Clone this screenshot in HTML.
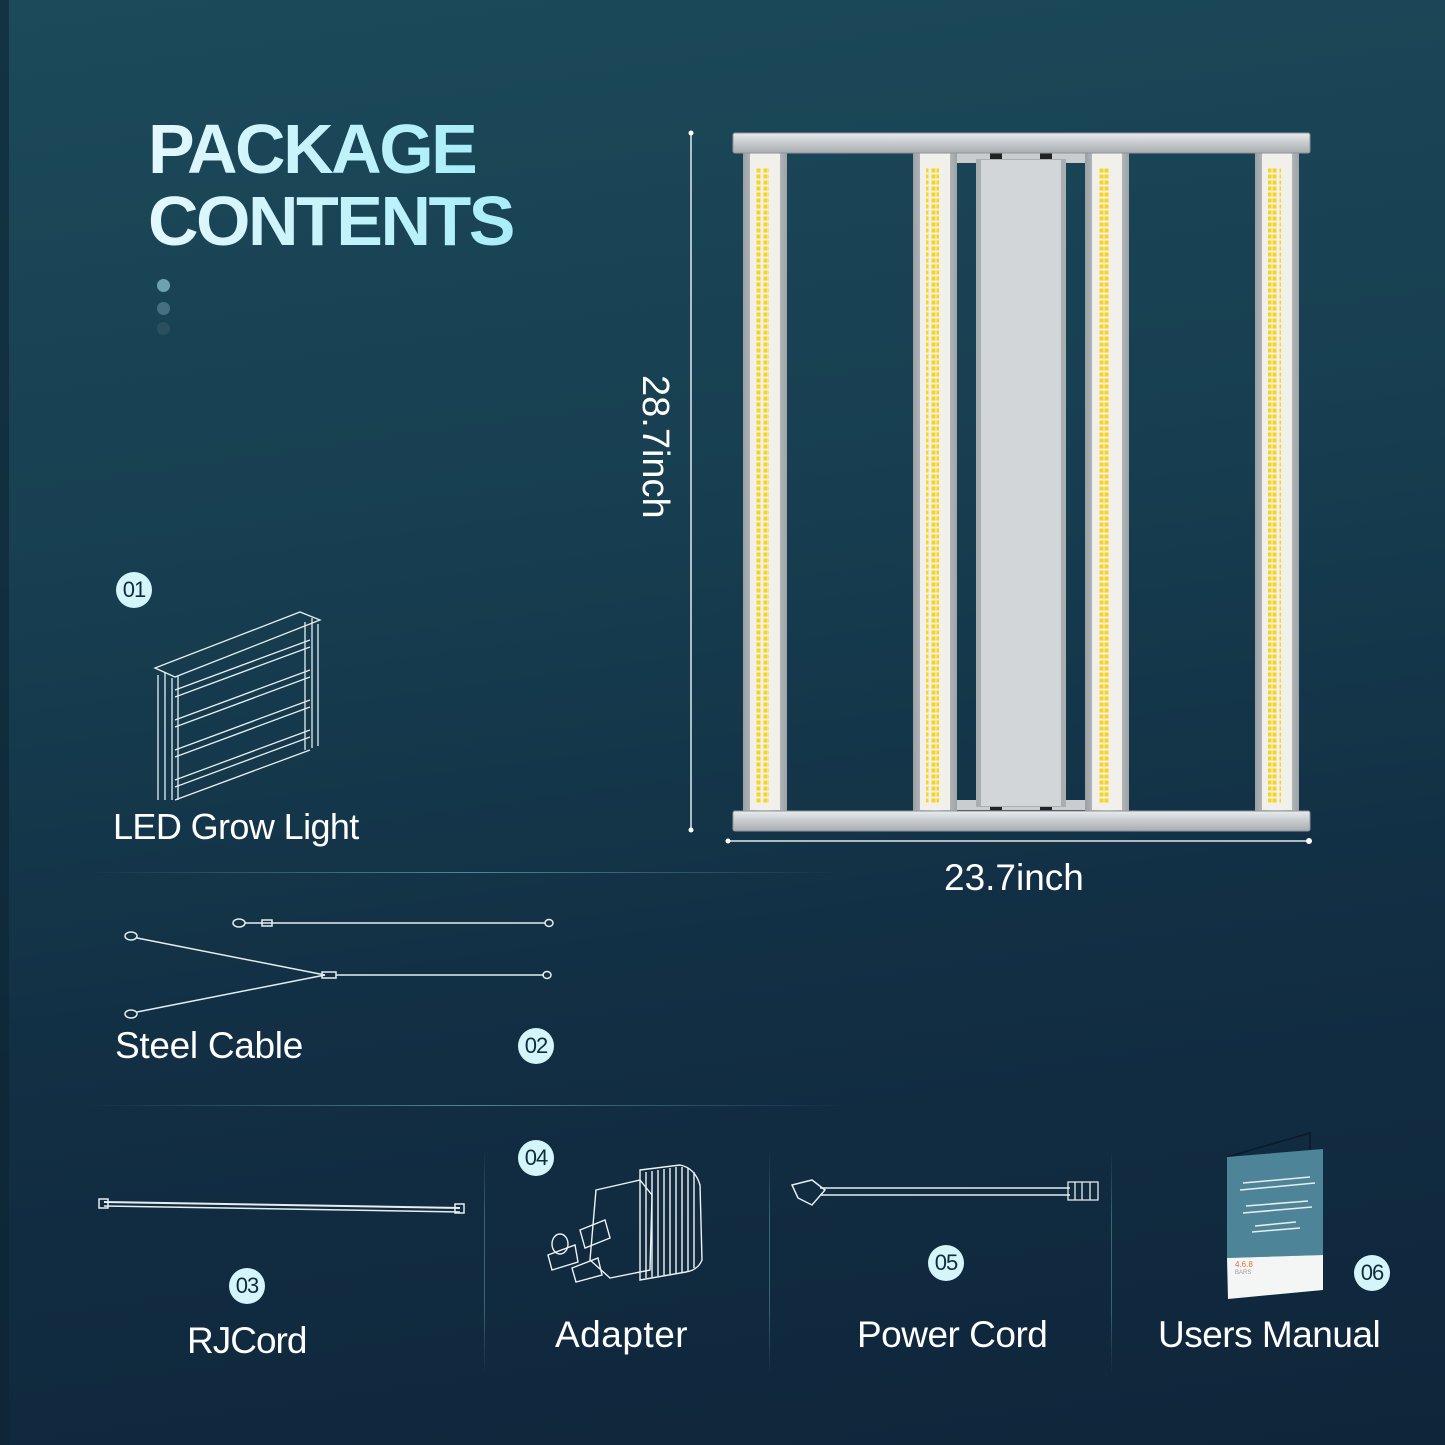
<!DOCTYPE html>
<html><head><meta charset="utf-8"><style>
html,body{margin:0;padding:0}
body{width:1445px;height:1445px;position:relative;overflow:hidden;font-family:"Liberation Sans",sans-serif;
background:linear-gradient(172deg,#1c4a5a 0%,#173f51 35%,#122f44 65%,#0f253a 100%);}
.t{position:absolute;color:#fff;white-space:nowrap;letter-spacing:0}
.b{position:absolute;width:36px;height:36px;border-radius:50%;background:#d4f6fb;color:#0f2a3c;font-size:22px;line-height:36px;text-align:center;letter-spacing:-1px}
.title{position:absolute;left:148px;font-weight:bold;font-size:70px;letter-spacing:-2.5px;line-height:70px;color:#d9f6fb;
background:linear-gradient(90deg,#e4f8fc,#a8eefa);-webkit-background-clip:text;background-clip:text;-webkit-text-fill-color:transparent}
.dot{position:absolute;left:157px;width:13px;height:13px;border-radius:50%}
.hl{position:absolute;height:1px;background:linear-gradient(90deg,rgba(120,190,205,0),rgba(120,190,205,.6) 50%,rgba(120,190,205,0))}
.vl{position:absolute;width:1px;background:linear-gradient(180deg,rgba(110,170,190,0),rgba(110,170,190,.45) 30%,rgba(110,170,190,.45) 70%,rgba(110,170,190,0))}
</style></head><body>
<div style="position:absolute;left:0;top:0;width:9px;height:1445px;background:#0e2432;opacity:.6"></div>

<div class="title" style="top:114px">PACKAGE</div>
<div class="title" style="top:186px">CONTENTS</div>
<div class="dot" style="top:279px;background:#6fa2b0"></div>
<div class="dot" style="top:302px;background:#44717f"></div>
<div class="dot" style="top:322px;background:#2a5060"></div>

<svg style="position:absolute;left:0;top:0" width="1445" height="1445">
<defs>
<pattern id="led" x="0" y="0" width="12" height="6" patternUnits="userSpaceOnUse">
<rect x="0.5" y="0.5" width="4" height="4" fill="#f7d51c"/><rect x="7.5" y="0.5" width="4" height="4" fill="#f7d51c"/>
</pattern>
<linearGradient id="al" x1="0" x2="1"><stop offset="0" stop-color="#9aa0a4"/><stop offset=".5" stop-color="#d8dcde"/><stop offset="1" stop-color="#9ea3a6"/></linearGradient>
<linearGradient id="alh" x1="0" y1="0" x2="0" y2="1"><stop offset="0" stop-color="#e8ecee"/><stop offset=".5" stop-color="#c6cacc"/><stop offset="1" stop-color="#a8adb0"/></linearGradient>
</defs>
<line x1="691" y1="133" x2="691" y2="830" stroke="#dfe9ec" stroke-width="1.5"/>
<circle cx="691" cy="133" r="2.5" fill="#fff"/><circle cx="691" cy="830" r="2.5" fill="#fff"/>
<line x1="728" y1="841" x2="1309" y2="841" stroke="#dfe9ec" stroke-width="1.5"/>
<circle cx="728" cy="841" r="2.5" fill="#fff"/><circle cx="1309" cy="841" r="3" fill="#fff"/>
<rect x="955" y="153" width="135" height="10" fill="#c9cdd0"/>
<rect x="955" y="800" width="135" height="10" fill="#c9cdd0"/>
<rect x="990" y="152" width="12" height="8" fill="#222"/><rect x="1040" y="152" width="12" height="8" fill="#222"/>
<rect x="990" y="802" width="12" height="8" fill="#222"/><rect x="1040" y="802" width="12" height="8" fill="#222"/>
<rect x="976" y="159" width="90" height="648" fill="#a9aeb1"/>
<rect x="981" y="160" width="80" height="646" fill="#d3d6d8"/>
<g>
<rect x="743" y="150" width="44" height="662" fill="url(#al)"/><rect x="750" y="152" width="30" height="658" fill="#f2f0ea"/><rect x="756" y="168" width="13" height="636" fill="url(#led)"/>
<rect x="913" y="150" width="44" height="662" fill="url(#al)"/><rect x="920" y="152" width="30" height="658" fill="#f2f0ea"/><rect x="926" y="168" width="13" height="636" fill="url(#led)"/>
<rect x="1085" y="150" width="44" height="662" fill="url(#al)"/><rect x="1092" y="152" width="30" height="658" fill="#f2f0ea"/><rect x="1098" y="168" width="13" height="636" fill="url(#led)"/>
<rect x="1255" y="150" width="44" height="662" fill="url(#al)"/><rect x="1262" y="152" width="30" height="658" fill="#f2f0ea"/><rect x="1268" y="168" width="13" height="636" fill="url(#led)"/>
</g>
<rect x="733" y="133" width="577" height="20" rx="2" fill="url(#alh)" stroke="#8f9599" stroke-width="1"/>
<rect x="733" y="811" width="577" height="20" rx="2" fill="url(#alh)" stroke="#8f9599" stroke-width="1"/>

<g stroke="#e6eef0" stroke-width="1.3" fill="none">
<path d="M155 668 L300 612 L320 620 L175 677 Z"/>
<path d="M158 675 V800 M165 672 V800 M172 678 V800 M178 676 V800"/>
<path d="M305 622 V750 M312 618 V748 M318 624 V746"/>
<path d="M175 690 L310 640 M175 697 L310 647"/>
<path d="M175 720 L310 670 M175 727 L310 677"/>
<path d="M175 750 L310 700 M175 757 L310 707"/>
<path d="M175 780 L310 730 M175 787 L310 737"/>
<path d="M175 800 L310 750"/>
</g>
<g stroke="#e6eef0" stroke-width="1.5" fill="none">
<ellipse cx="239" cy="923" rx="6" ry="4"/><line x1="245" y1="923" x2="545" y2="923"/><ellipse cx="549" cy="923" rx="4" ry="3.5"/>
<path d="M262 920 l10 0 l0 6 l-10 0z"/>
<ellipse cx="131" cy="936" rx="6" ry="4"/><ellipse cx="131" cy="1014" rx="6" ry="4"/>
<line x1="137" y1="938" x2="325" y2="975"/><line x1="137" y1="1012" x2="325" y2="975"/>
<rect x="322" y="972" width="14" height="6"/><line x1="336" y1="975" x2="544" y2="975"/><ellipse cx="547" cy="975" rx="4" ry="3.5"/>
</g>
<g stroke="#e6eef0" fill="none">
<line x1="104" y1="1202" x2="460" y2="1208" stroke-width="2"/>
<line x1="104" y1="1206" x2="460" y2="1212" stroke-width="1.5"/>
<rect x="99" y="1199" width="9" height="9" stroke-width="1.5"/><rect x="455" y="1204" width="9" height="9" stroke-width="1.5"/>
</g>
<g stroke="#eef3f4" stroke-width="1.4" fill="none">
<path d="M640 1170 L680 1165 Q695 1168 700 1185 L702 1260 Q698 1270 686 1272 L640 1280 Z"/>
<path d="M646 1172 V1278 M652 1171 V1277 M658 1170 V1276 M664 1169 V1275 M670 1168 V1274 M676 1167 V1273 M682 1167 V1272 M688 1168 V1271 M694 1172 V1268"/>
<path d="M596 1190 L640 1180 L652 1195 L650 1270 L610 1278 L590 1260 Z"/>
<path d="M580 1230 L605 1220 L610 1238 L585 1248 Z"/>
<path d="M548 1255 L575 1245 L578 1262 L552 1270 Z"/>
<path d="M572 1268 L598 1258 L602 1275 L576 1282 Z"/>
<ellipse cx="560" cy="1244" rx="8" ry="10"/>
</g>
<g stroke="#e6eef0" fill="none">
<line x1="820" y1="1188" x2="1070" y2="1188" stroke-width="1.5"/>
<line x1="820" y1="1195" x2="1070" y2="1195" stroke-width="1.5"/>
<path d="M792 1185 L812 1180 L825 1190 L812 1205 L798 1198 Z" stroke-width="1.5"/>
<path d="M1068 1182 h30 v18 h-30 z M1075 1182 v18 M1082 1182 v18 M1090 1182 v18" stroke-width="1.3"/>
</g>
<path d="M1227 1157 L1310 1133 L1310 1150" stroke="#0b1b26" stroke-width="1.5" fill="none"/>
<path d="M1227 1157 L1323 1149 L1323 1255 L1227 1258 Z" fill="#4d8497"/>
<path d="M1227 1258 L1323 1255 L1323 1290 L1228 1299 Z" fill="#f4f6f6"/>
<g stroke="#e8eef0" stroke-width="1.5" fill="none">
<path d="M1240 1190 L1315 1183 M1243 1183 L1310 1177"/>
<path d="M1243 1213 L1312 1207 M1246 1206 L1308 1201"/>
<path d="M1252 1232 L1300 1228 M1255 1226 L1296 1222"/>
</g>
<text x="1235" y="1267" font-family="Liberation Sans" font-size="8" fill="#e86a3a">4.6.8</text>
<text x="1235" y="1274" font-family="Liberation Sans" font-size="6" fill="#999">BARS</text>
</svg>

<div class="t" style="left:636px;top:375px;font-size:38px;transform-origin:0 0;transform:translate(40px,0) rotate(90deg)">28.7inch</div>
<div class="t" style="left:944px;top:857px;font-size:37px">23.7inch</div>

<div class="b" style="left:116px;top:572px">01</div>
<div class="b" style="left:518px;top:1028px">02</div>
<div class="b" style="left:229px;top:1268px">03</div>
<div class="b" style="left:518px;top:1140px">04</div>
<div class="b" style="left:928px;top:1245px">05</div>
<div class="b" style="left:1354px;top:1255px">06</div>

<div class="t" style="left:113px;top:806px;font-size:36px;letter-spacing:-0.6px">LED Grow Light</div>
<div class="t" style="left:115px;top:1025px;font-size:37px;letter-spacing:-0.3px">Steel Cable</div>
<div class="t" style="left:187px;top:1320px;font-size:37px;letter-spacing:-1px">RJCord</div>
<div class="t" style="left:555px;top:1314px;font-size:37px;letter-spacing:0.5px">Adapter</div>
<div class="t" style="left:857px;top:1314px;font-size:37px;letter-spacing:-0.5px">Power Cord</div>
<div class="t" style="left:1158px;top:1314px;font-size:37px;letter-spacing:-0.5px">Users Manual</div>

<div class="hl" style="left:85px;top:872px;width:760px"></div>
<div class="hl" style="left:85px;top:1105px;width:760px"></div>
<div class="vl" style="left:484px;top:1150px;height:225px"></div>
<div class="vl" style="left:769px;top:1150px;height:225px"></div>
<div class="vl" style="left:1111px;top:1150px;height:225px"></div>
</body></html>
